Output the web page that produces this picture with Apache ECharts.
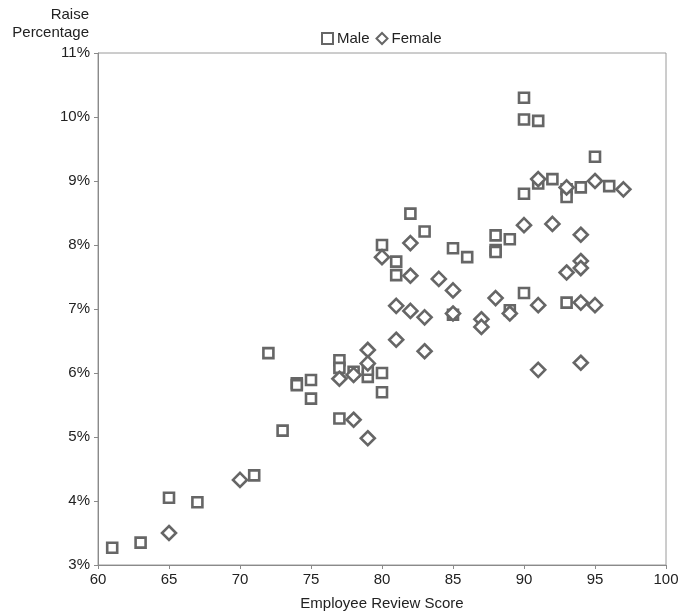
<!DOCTYPE html>
<html>
<head>
<meta charset="utf-8">
<script src="https://cdn.jsdelivr.net/npm/echarts@6/dist/echarts.min.js"></script>
<style>
html,body{margin:0;padding:0;background:#fff;}
#chart{width:680px;height:613px;}
</style>
</head>
<body>
<div id="chart"></div>
<script>
var xTicks = [60, 65, 70, 75, 80, 85, 90, 95, 100];
var yTicks = [3, 4, 5, 6, 7, 8, 9, 10, 11];

var maleScores = [61, 63, 65, 67, 71, 72, 73, 74, 74, 75, 75, 77, 77, 77, 78, 79, 79, 80, 80,
  80, 81, 81, 82, 83, 85, 85, 86, 88, 88, 88, 89, 89, 90, 90, 90, 90, 91, 91, 92, 93, 93, 93, 94, 95, 96];
var maleRaises = [3.27, 3.35, 4.05, 3.98, 4.40, 6.31, 5.10, 5.84, 5.81, 5.89, 5.60, 6.20, 6.08, 5.29, 6.02, 5.94, 6.05, 6.00, 5.70,
  8.00, 7.74, 7.53, 8.49, 8.21, 7.95, 6.91, 7.81, 8.15, 7.92, 7.89, 8.09, 6.98, 10.30, 9.96, 8.80, 7.25, 9.94, 8.96, 9.03, 8.87, 8.75, 7.10, 8.90, 9.38, 8.92];

var femaleScores = [65, 70, 77, 78, 78, 79, 79, 79, 80, 81, 81, 82, 82, 82, 83, 83, 84, 85, 85,
  87, 87, 88, 89, 90, 91, 91, 91, 92, 93, 93, 94, 94, 94, 94, 94, 95, 95, 97];
var femaleRaises = [3.50, 4.33, 5.91, 5.97, 5.27, 6.36, 6.15, 4.98, 7.81, 7.05, 6.52, 8.03, 7.52, 6.97, 6.87, 6.34, 7.47, 7.29, 6.93,
  6.84, 6.72, 7.17, 6.93, 8.31, 9.03, 7.06, 6.05, 8.33, 8.90, 7.57, 8.16, 7.75, 7.64, 7.10, 6.16, 9.00, 7.06, 8.87];

function pairs(xs, ys) { return xs.map(function (x, i) { return [x, ys[i]]; }); }

var chart = echarts.init(document.getElementById('chart'), null, { renderer: 'canvas' });
var fontFam = '"Liberation Sans", Arial, sans-serif';
var fs = 15;
var markerStyle = { color: '#ffffff', borderColor: '#666666', borderWidth: 2.6, opacity: 1 };

chart.setOption({
  animation: false,
  backgroundColor: '#ffffff',
  textStyle: { fontFamily: fontFam },
  grid: { left: 98, right: 14, top: 53, bottom: 48, containLabel: false, outerBoundsMode: 'none',
    show: true, borderColor: '#9a9a9a', borderWidth: 1, backgroundColor: 'transparent' },
  legend: {
    top: 31, left: 321, itemGap: 6, itemWidth: 11, itemHeight: 11,
    textStyle: { fontFamily: fontFam, fontSize: fs, color: '#222', padding: [0, 0, 0, -1] },
    data: [{ name: 'Male', icon: 'rect' }, { name: 'Female', icon: 'diamond' }],
    padding: 0
  },
  xAxis: {
    type: 'value', min: xTicks[0], max: xTicks[xTicks.length - 1], interval: 5,
    name: 'Employee Review Score', nameLocation: 'middle', nameGap: 31,
    nameTextStyle: { fontFamily: fontFam, fontSize: fs, color: '#222' },
    axisLine: { show: true, lineStyle: { color: '#8a8a8a', width: 1 } },
    axisTick: { show: true, inside: false, length: 4, lineStyle: { color: '#8a8a8a' } },
    axisLabel: { fontFamily: fontFam, fontSize: fs, color: '#222', margin: 7 },
    splitLine: { show: false }
  },
  yAxis: {
    type: 'value', min: yTicks[0], max: yTicks[yTicks.length - 1], interval: 1,
    axisLine: { show: true, lineStyle: { color: '#8a8a8a', width: 1 } },
    axisTick: { show: true, inside: false, length: 4, lineStyle: { color: '#8a8a8a' } },
    axisLabel: { fontFamily: fontFam, fontSize: fs, color: '#222', margin: 8, formatter: '{value}%' },
    splitLine: { show: false }
  },
  graphic: [
    { type: 'text', right: 591, top: 7, style: { text: 'Raise', font: fs + 'px ' + fontFam, fill: '#222', textAlign: 'right' } },
    { type: 'text', right: 591, top: 25, style: { text: 'Percentage', font: fs + 'px ' + fontFam, fill: '#222', textAlign: 'right' } }
  ],
  series: [
    { name: 'Male', type: 'scatter', symbol: 'rect', symbolSize: 10, itemStyle: markerStyle, data: pairs(maleScores, maleRaises), z: 2 },
    { name: 'Female', type: 'scatter', symbol: 'diamond', symbolSize: 14, itemStyle: markerStyle, data: pairs(femaleScores, femaleRaises), z: 3 }
  ]
});
</script>
</body>
</html>
